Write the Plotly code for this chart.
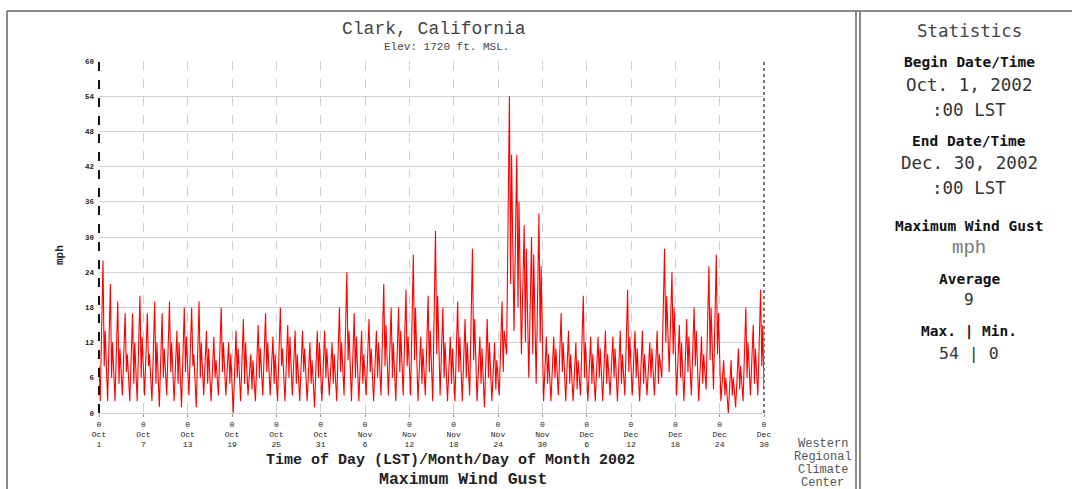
import plotly.graph_objects as go
import pandas as pd

# ---- data (mph) ----
# overnight low, afternoon peak, late-afternoon dip and evening secondary gust for each day
daily_low = [2, 2, 2, 3, 2, 2, 3, 2, 1, 3,
             2, 1, 3, 1, 3, 2, 3, 3, 0, 2,
             3, 2, 3, 3, 2, 2, 3, 2, 2, 1,
             2, 3, 2, 3, 2, 2, 3, 2, 3, 3,
             2, 3, 3, 2, 3, 2, 3, 2, 2, 2,
             3, 2, 1, 2, 3, 10, 14, 10, 6, 5,
             2, 2, 3, 2, 2, 3, 2, 2, 2, 3,
             2, 3, 3, 2, 3, 3, 6, 7, 3, 2,
             3, 2, 4, 4, 2, 0, 1, 2, 3, 3]
daily_peak = [26, 22, 19, 17, 17, 20, 17, 19, 17, 19,
              14, 18, 18, 19, 14, 13, 18, 12, 14, 16,
              10, 15, 17, 13, 18, 15, 14, 14, 12, 14,
              14, 12, 18, 24, 17, 14, 16, 14, 22, 18,
              18, 21, 27, 13, 20, 31, 18, 13, 19, 16,
              28, 13, 16, 12, 19, 54, 44, 32, 30, 34,
              13, 13, 17, 14, 12, 20, 13, 13, 14, 13,
              14, 21, 14, 14, 12, 14, 28, 24, 15, 16,
              18, 13, 25, 27, 9, 9, 11, 18, 15, 21]
daily_dip = [8, 6, 5, 7, 5, 6, 8, 5, 6, 7,
             5, 7, 8, 6, 5, 6, 7, 5, 6, 5,
             4, 6, 7, 5, 8, 6, 5, 7, 5, 6,
             6, 5, 7, 9, 6, 5, 7, 6, 8, 6,
             7, 8, 9, 5, 7, 10, 6, 5, 7, 6,
             9, 5, 6, 4, 7, 22, 18, 12, 10, 12,
             5, 6, 7, 5, 4, 6, 5, 6, 5, 6,
             5, 7, 6, 5, 6, 5, 12, 10, 6, 7,
             8, 5, 9, 10, 3, 3, 4, 6, 5, 8]
daily_evening = [14, 12, 11, 10, 12, 13, 10, 12, 11, 12,
                 12, 13, 10, 12, 11, 9, 12, 10, 11, 12,
                 9, 11, 12, 10, 11, 13, 10, 11, 9, 12,
                 11, 10, 12, 14, 13, 10, 11, 12, 15, 12,
                 14, 13, 18, 11, 14, 20, 12, 11, 13, 12,
                 16, 11, 12, 9, 14, 44, 36, 28, 27, 25,
                 10, 11, 12, 10, 9, 12, 10, 11, 10, 11,
                 10, 13, 11, 10, 11, 10, 20, 18, 12, 13,
                 14, 10, 18, 17, 6, 6, 8, 12, 11, 15]
start_value = 8
end_value = 4
tick_dates = ["2002-10-01", "2002-10-07", "2002-10-13", "2002-10-19", "2002-10-25",
              "2002-10-31", "2002-11-06", "2002-11-12", "2002-11-18", "2002-11-24",
              "2002-11-30", "2002-12-06", "2002-12-12", "2002-12-18", "2002-12-24",
              "2002-12-30"]
tick_labels = ["0<br>Oct<br>1", "0<br>Oct<br>7", "0<br>Oct<br>13", "0<br>Oct<br>19",
               "0<br>Oct<br>25", "0<br>Oct<br>31", "0<br>Nov<br>6", "0<br>Nov<br>12",
               "0<br>Nov<br>18", "0<br>Nov<br>24", "0<br>Nov<br>30", "0<br>Dec<br>6",
               "0<br>Dec<br>12", "0<br>Dec<br>18", "0<br>Dec<br>24", "0<br>Dec<br>30"]
y_ticks = [0, 6, 12, 18, 24, 30, 36, 42, 48, 54, 60]

# ---- assemble the time series ----
start = pd.Timestamp("2002-10-01 00:00")
xs = [start]
ys = [start_value]
for d in range(len(daily_peak)):
    day = start + pd.Timedelta(days=d)
    for hr, val in ((4, daily_low[d]), (13, daily_peak[d]),
                    (17, daily_dip[d]), (20, daily_evening[d])):
        xs.append(day + pd.Timedelta(hours=hr))
        ys.append(val)
xs.append(pd.Timestamp("2002-12-30 00:00"))
ys.append(end_value)

# ---- geometry helpers (pixel -> paper) ----
L, R, T, B = 99, 764, 61, 413
W, H = 1072, 489
def px(x):
    return (x - L) / (R - L)
def py(y):
    return (B - y) / (B - T)

MONO = "Liberation Mono, Courier New, monospace"
PANEL = "DejaVu Sans Mono, monospace"

fig = go.Figure()
fig.add_trace(go.Scatter(x=xs, y=ys, mode="lines",
                         line=dict(color="#ff0000", width=1.1),
                         hoverinfo="x+y", showlegend=False))

fig.update_layout(
    width=W, height=H,
    margin=dict(l=L, r=W - R, t=T, b=H - B),
    paper_bgcolor="white", plot_bgcolor="white",
    showlegend=False,
    xaxis=dict(
        range=[start, pd.Timestamp("2002-12-30 00:00")],
        tickmode="array", tickvals=tick_dates, ticktext=tick_labels,
        tickfont=dict(family=MONO, size=8, color="#222"),
        ticks="outside", ticklen=3, tickcolor="#999",
        showgrid=True, gridcolor="#cfcfcf", griddash="dash", gridwidth=1,
        showline=True, linecolor="#cfcfcf", linewidth=1,
        zeroline=False, fixedrange=True,
    ),
    yaxis=dict(
        range=[0, 60], tickmode="array", tickvals=y_ticks,
        ticktext=["<b>%d</b>" % v for v in y_ticks],
        tickfont=dict(family=MONO, size=7.5, color="#222"),
        ticks="", ticklabelstandoff=4,
        showgrid=True, gridcolor="#d0d0d0", gridwidth=1,
        showline=False, zeroline=False, fixedrange=True,
    ),
)

shapes = []
shapes.append(dict(type="line", xref="paper", yref="paper", x0=0, x1=0, y0=0, y1=1,
                   line=dict(color="#111", width=2, dash="dash")))
shapes.append(dict(type="line", xref="paper", yref="paper", x0=1, x1=1, y0=0, y1=1,
                   line=dict(color="#777", width=2, dash="dot")))
frame = "#666"
shapes.append(dict(type="line", xref="paper", yref="paper", x0=px(7), x1=px(1072),
                   y0=py(11), y1=py(11), line=dict(color=frame, width=1.5)))
shapes.append(dict(type="line", xref="paper", yref="paper", x0=px(7), x1=px(7),
                   y0=py(11), y1=py(489), line=dict(color=frame, width=1.5)))
shapes.append(dict(type="line", xref="paper", yref="paper", x0=px(856), x1=px(856),
                   y0=py(11), y1=py(489), line=dict(color=frame, width=1.5)))
shapes.append(dict(type="line", xref="paper", yref="paper", x0=px(860), x1=px(860),
                   y0=py(11), y1=py(489), line=dict(color=frame, width=1.5)))
fig.update_layout(shapes=shapes)

ann = []
def text(x, y, s, size, family=MONO, color="#333", bold=False, angle=0, pad=1):
    if bold:
        s = "<b>%s</b>" % s
    ann.append(dict(x=px(x), y=py(y), xref="paper", yref="paper", text=s,
                    showarrow=False, xanchor="center", yanchor="middle",
                    textangle=angle, borderpad=pad,
                    font=dict(family=family, size=size, color=color)))

text(434, 29, "Clark, California", 18, color="#444")
text(446, 47, "Elev: 1720 ft. MSL.", 11, color="#444")
text(60, 255, "mph", 11, color="#222", bold=True, angle=-90)
text(451, 460, "Time of Day (LST)/Month/Day of Month 2002", 15, color="#222", bold=True, pad=0)
text(463, 479, "Maximum Wind Gust", 16.5, color="#222", bold=True, pad=0)
for i, s in enumerate(["Western", "Regional", "Climate", "Center"]):
    text(823, 444 + 13 * i, s, 12, color="#555")

cx = 969
text(cx, 31, "Statistics", 17.5, family=PANEL, color="#444")
text(cx, 62, "Begin Date/Time", 14.5, family=PANEL, color="#111", bold=True)
text(cx, 85, "Oct. 1, 2002", 17.5, family=PANEL, color="#333")
text(cx, 110, ":00 LST", 17.5, family=PANEL, color="#333")
text(cx, 141, "End Date/Time", 14.5, family=PANEL, color="#111", bold=True)
text(cx, 163, "Dec. 30, 2002", 17.5, family=PANEL, color="#333")
text(cx, 188, ":00 LST", 17.5, family=PANEL, color="#333")
text(cx, 226, "Maximum Wind Gust", 14.5, family=PANEL, color="#111", bold=True)
text(cx, 248, "mph", 19, family=MONO, color="#777")
text(cx, 279, "Average", 14.5, family=PANEL, color="#111", bold=True)
text(cx, 299, "9", 16, family=PANEL, color="#333")
text(cx, 331, "Max. | Min.", 14.5, family=PANEL, color="#111", bold=True)
text(cx, 353, "54 | 0", 16.5, family=PANEL, color="#333")
fig.update_layout(annotations=ann)

fig.write_html("out.html", config={"displayModeBar": False},
               post_script="document.body.style.margin='0';document.body.style.overflow='hidden';")
